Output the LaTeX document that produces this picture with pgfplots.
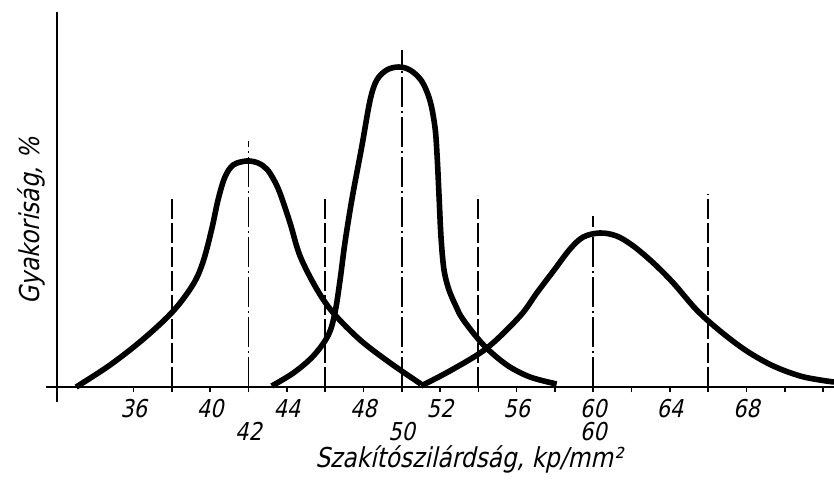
\documentclass[border=0pt]{standalone}
\usepackage{pgfplots}
\pgfplotsset{compat=1.18}
\usepackage{fontspec}
\setmainfont{DejaVu Sans}[FakeSlant=0.22,FakeStretch=0.85]
\begin{document}
\begin{tikzpicture}
\useasboundingbox (-28.5pt,-47pt) rectangle (388.5pt,193.5pt);
\begin{axis}[
  at={(0pt,0pt)}, anchor=south west,
  scale only axis, width=388.5pt, height=187.5pt,
  xmin=32, xmax=72.57, ymin=0, ymax=375,
  axis x line=bottom, axis y line=left,
  axis line style={-, line width=1.3pt},
  ytick=\empty,
  xtick={36,40,...,72},
  xticklabels={36,40,44,48,52,56,60,64,68,},
  minor xtick={38,42,...,70},
  extra x ticks={42,50,60},
  extra x tick labels={42,50,60},
  extra x tick style={major tick length=0pt, tick label style={yshift=-14pt}},
  tick align=outside, major tick length=2.5pt, minor tick length=2.5pt,
  every tick/.style={line width=0.8pt, black},
  /pgf/number format/assume math mode=true,
  tick label style={font=\fontsize{12.3}{14}\selectfont},
  xlabel={Szakítószilárdság, kp/mm²},
  ylabel={Gyakoriság, \%},
  xlabel style={at={(axis description cs:0.530,-0.192)}, anchor=center, font=\fontsize{13.7}{16}\selectfont},
  ylabel style={at={(axis description cs:-0.0335,0.443)}, anchor=center, font=\fontsize{13.7}{16}\selectfont},
  clip=false,
  vdash/.style={line width=0.9pt, black, dash pattern=on 10pt off 2pt},
  vdashdot/.style={line width=0.9pt, black, dash pattern=on 15pt off 2pt on 1pt off 2pt},
  curve/.style={line width=2.8pt, black, smooth, tension=0.55, line join=round},
]
% axis extensions
\draw[line width=1.3pt] (axis cs:32,0) -- (axis cs:32,-15);
\draw[line width=1.3pt] (axis cs:32,0) -- (axis cs:31.45,0);
% vertical reference lines
\addplot[vdash] coordinates {(38,0) (38,189)};
\addplot[vdash] coordinates {(46,0) (46,190)};
\addplot[vdash] coordinates {(54,0) (54,192)};
\addplot[vdash] coordinates {(66,0) (66,193)};
\addplot[vdashdot] coordinates {(42,0) (42,246)};
\addplot[vdashdot] coordinates {(50,0) (50,337)};
\addplot[vdashdot] coordinates {(60,0) (60,171)};
% curve A (peak 42)
\addplot[curve] coordinates {
 (33.0,0) (34.77,22) (36.51,48) (38.07,76) (39.12,103) (39.64,126)
 (40.08,158) (40.42,188) (40.77,210) (41.2,222) (41.9,226) (42.5,224)
 (42.95,218) (43.3,208) (43.64,194) (44.17,164) (44.69,131) (45.56,98)
 (46.43,74) (47.83,47) (49.4,24) (51.0,3)
};
% curve B (peak 50)
\addplot[curve] coordinates {
 (43.21,1) (44.34,14) (45.38,31) (46.17,52) (46.52,75) (46.78,107)
 (47.04,145) (47.42,190) (47.91,240) (48.35,287) (48.7,307) (49.22,317)
 (49.83,320) (50.43,317) (51.04,306) (51.48,286) (51.74,259) (51.85,230)
 (51.95,190) (52.05,150) (52.2,118) (52.45,98) (52.85,80) (53.22,67)
 (54.27,42) (55.49,22) (56.7,10) (58.09,3)
};
% curve C (peak 60)
\addplot[curve] coordinates {
 (51.0,1) (52.6,17) (54.45,39) (56.18,71) (57.05,94) (57.92,116)
 (58.79,138) (59.48,150) (60.35,154) (61.22,151) (62.09,141) (63.14,124)
 (64.18,104) (65.4,77) (66.62,56) (68.01,36) (69.4,21) (70.8,11)
 (71.84,7) (72.57,5)
};
\end{axis}
\end{tikzpicture}
\end{document}
